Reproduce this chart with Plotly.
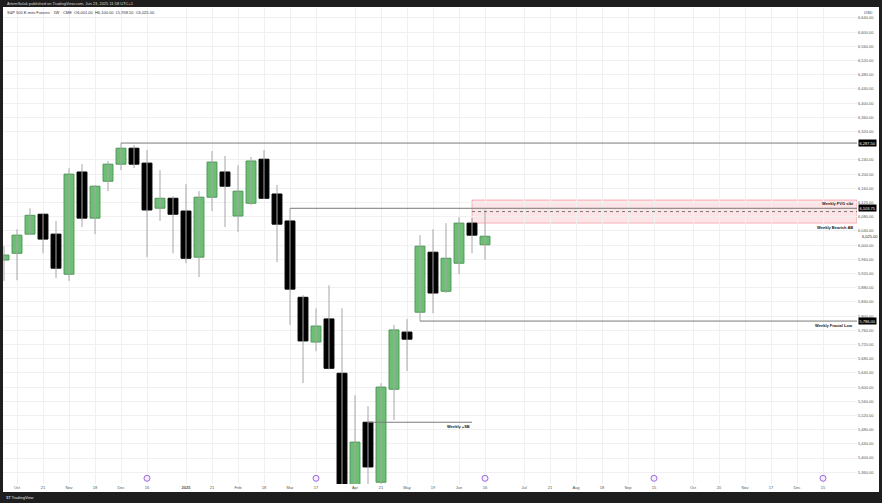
import plotly.graph_objects as go
import pandas as pd

# ---------------- data ----------------
week_dates = [
    "2024-09-30", "2024-10-07", "2024-10-14", "2024-10-21", "2024-10-28",
    "2024-11-04", "2024-11-11", "2024-11-18", "2024-11-25", "2024-12-02",
    "2024-12-09", "2024-12-16", "2024-12-23", "2024-12-30", "2025-01-06",
    "2025-01-13", "2025-01-20", "2025-01-27", "2025-02-03", "2025-02-10",
    "2025-02-17", "2025-02-24", "2025-03-03", "2025-03-10", "2025-03-17",
    "2025-03-24", "2025-03-31", "2025-04-07", "2025-04-14", "2025-04-21",
    "2025-04-28", "2025-05-05", "2025-05-12", "2025-05-19", "2025-05-26",
    "2025-06-02", "2025-06-09", "2025-06-16",
]
opens = [5958, 5977, 6031, 6087, 6031, 5918, 6206, 6076, 6180, 6228,
         6273, 6231, 6104, 6132, 6096, 5966, 6135, 6206, 6082, 6118,
         6242, 6144, 6068, 5853, 5727, 5792, 5639, 5080, 5501, 5332,
         5594, 5755, 5811, 5980, 5870, 5949, 6062, 6001]
highs = [5997, 6045, 6104, 6090, 6068, 6217, 6228, 6169, 6237, 6287.5,
         6282, 6268, 6211, 6138, 6172, 6152, 6265, 6251, 6225, 6248,
         6268, 6169, 6103.75, 5859, 5822, 5887, 5822, 5577, 5546, 5611,
         5775, 5792, 6028, 6045, 6062, 6079, 6076, 6100]
lows = [5899, 5901, 6028, 5977, 5907, 5899, 6051, 6031, 6152, 6211,
        6217, 5966, 6068, 5977, 5949, 5910, 6096, 6051, 6037, 6113,
        6130, 5952, 5775, 5611, 5701, 5650, 5040, 4830, 5300, 5250,
        5507, 5645, 5786, 5808, 5865, 5918, 5977, 5958.5]
closes = [5972, 6028, 6084, 6017, 5935, 6200, 6076, 6166, 6228, 6273,
          6228, 6099, 6132, 6087, 5963, 6135, 6234, 6166, 6152, 6237,
          6132, 6059, 5876, 5730, 5772, 5653, 5100, 5445, 5375, 5600,
          5761, 5735, 5997, 5865, 5963, 6062, 6028, 6025]

price_ticks = [5360 + 40 * i for i in range(33)]
x_tick_dates = ["2024-10-07", "2024-10-21", "2024-11-04", "2024-11-18", "2024-12-02",
                "2024-12-16", "2025-01-06", "2025-01-20", "2025-02-03", "2025-02-17",
                "2025-03-03", "2025-03-17", "2025-04-07", "2025-04-21", "2025-05-05",
                "2025-05-19", "2025-06-02", "2025-06-16", "2025-07-07", "2025-07-21",
                "2025-08-04", "2025-08-18", "2025-09-01", "2025-09-15", "2025-10-06",
                "2025-10-20", "2025-11-03", "2025-11-17", "2025-12-01", "2025-12-15"]
x_tick_text = ["Oct", "21", "Nov", "18", "Dec", "16", "<b>2025</b>", "21", "Feb", "18",
               "Mar", "17", "Apr", "21", "May", "19", "Jun", "16", "Jul", "21",
               "Aug", "18", "Sep", "15", "Oct", "20", "Nov", "17", "Dec", "15"]
rollover_dates = ["2024-12-16", "2025-03-17", "2025-06-16", "2025-09-15", "2025-12-15"]

# key levels
level_prior_high = 6287.50
level_prior_high_from = "2024-12-02"
level_bear = 6103.75
level_bear_from = "2025-03-03"
level_fractal_low = 5786.00
level_fractal_from = "2025-05-12"
level_sb = 5501.0
level_sb_from = "2025-04-14"
level_sb_to = "2025-06-09"
fvg_top = 6127.0
fvg_bottom = 6062.0
fvg_from = "2025-06-09"
last_price = 6025.00

# ---------------- geometry helpers ----------------
W, H = 882, 503
PL, PR, PT, PB = 3, 857, 8, 484          # plot area in pixels
Y_RANGE = [5327, 6668]
anchor = pd.Timestamp("2025-01-06")
px_per_week = 13.0
anchor_px = 186
x_left = anchor - pd.Timedelta(weeks=(anchor_px - PL) / px_per_week)
x_right = anchor + pd.Timedelta(weeks=(PR - anchor_px) / px_per_week)


def fx(px):
    return (px - PL) / (PR - PL)


def fy(py):
    return (PB - py) / (PB - PT)


# axis labels hidden where a price box sits on top of them (as on TradingView)
boxed_levels = [level_prior_high, level_bear, level_fractal_low]
shown_ticks = [v for v in price_ticks if all(abs(v - b) >= 10 for b in boxed_levels)]

# ---------------- traces ----------------
fig = go.Figure()

wx, wy = [], []
for d, lo, hi in zip(week_dates, lows, highs):
    wx += [d, d, None]
    wy += [lo, hi, None]
fig.add_trace(go.Scatter(x=wx, y=wy, mode="lines",
                         line=dict(color="#a6a6a6", width=1),
                         hoverinfo="skip"))

bases = [min(o, c) for o, c in zip(opens, closes)]
heights = [max(abs(c - o), 1) for o, c in zip(opens, closes)]
up = [c >= o for o, c in zip(opens, closes)]
fills = ["#6cbf75" if u else "#000000" for u in up]
edges = ["#4e9657" if u else "#000000" for u in up]
week_ms = 7 * 24 * 3600 * 1000
fig.add_trace(go.Bar(x=week_dates, y=heights, base=bases, width=week_ms * 0.76,
                     marker=dict(color=fills, line=dict(color=edges, width=1)),
                     hoverinfo="skip"))

fig.add_trace(go.Scatter(x=rollover_dates, y=[0.012] * len(rollover_dates),
                         yaxis="y2", mode="markers",
                         marker=dict(symbol="circle", size=6, color="#f4ecff",
                                     line=dict(color="#9b6be0", width=1)),
                         hoverinfo="skip", cliponaxis=False))

# ---------------- shapes ----------------
shapes = [
    dict(type="rect", xref="paper", yref="paper", x0=fx(3), x1=fx(879),
         y0=fy(492), y1=fy(7), fillcolor="white", line=dict(width=0), layer="below"),
    dict(type="rect", xref="x", yref="y", x0=fvg_from, x1=x_right,
         y0=fvg_bottom, y1=fvg_top, fillcolor="rgba(242,54,69,0.13)",
         line=dict(color="rgba(242,54,69,0.35)", width=1), layer="below"),
    dict(type="line", xref="x", yref="y", x0=fvg_from, x1=x_right,
         y0=(fvg_top + fvg_bottom) / 2, y1=(fvg_top + fvg_bottom) / 2,
         line=dict(color="#777777", width=1, dash="dot")),
    dict(type="line", xref="x", yref="y", x0=level_prior_high_from, x1=x_right,
         y0=level_prior_high, y1=level_prior_high, line=dict(color="#7a7a7a", width=1)),
    dict(type="line", xref="x", yref="y", x0=level_bear_from, x1=x_right,
         y0=level_bear, y1=level_bear, line=dict(color="#7a7a7a", width=1)),
    dict(type="line", xref="x", yref="y", x0=level_fractal_from, x1=x_right,
         y0=level_fractal_low, y1=level_fractal_low, line=dict(color="#7a7a7a", width=1)),
    dict(type="line", xref="x", yref="y", x0=level_sb_from, x1=level_sb_to,
         y0=level_sb, y1=level_sb, line=dict(color="#7a7a7a", width=1)),
]

# ---------------- annotations ----------------
FONT = "Liberation Sans"
ann = []
ann.append(dict(xref="paper", yref="paper", x=fx(5), y=fy(3.6), xanchor="left",
                yanchor="middle", showarrow=False,
                text="ArtemSalak published on TradingView.com, Jun 23, 2025 11:58 UTC+1",
                font=dict(size=4, color="#d8d8d8", family=FONT)))
ann.append(dict(xref="paper", yref="paper", x=fx(5), y=fy(12.6), xanchor="left",
                yanchor="middle", showarrow=False,
                text="S&P 500 E-mini Futures · 1W · CME  O6,001.00  H6,100.00  L5,958.50  C6,025.00",
                font=dict(size=4, color="#333333", family=FONT)))
ann.append(dict(xref="paper", yref="paper", x=fx(862), y=fy(12.5), xanchor="left",
                yanchor="middle", showarrow=False, text="USD",
                font=dict(size=4, color="#444444", family=FONT)))
ann.append(dict(xref="paper", yref="paper", x=fx(4), y=fy(497.5), xanchor="left",
                yanchor="middle", showarrow=False, text="<b>17</b> TradingView",
                font=dict(size=4, color="#e0e0e0", family=FONT)))

for price, label in [(level_prior_high, "6,287.50"), (level_bear, "6,103.75"),
                     (level_fractal_low, "5,786.00")]:
    ann.append(dict(xref="paper", yref="y", x=fx(858), y=price, xanchor="left",
                    yanchor="middle", showarrow=False, text=label,
                    bgcolor="#000000", borderpad=0.5,
                    font=dict(size=4, color="#ffffff", family=FONT)))
ann.append(dict(xref="paper", yref="y", x=fx(860), y=last_price, xanchor="left",
                yanchor="middle", showarrow=False, text=f"{last_price:,.2f}",
                font=dict(size=4, color="#222222", family=FONT)))

for txt, yv, ya in [("Weekly FVG sibi", level_bear, "bottom"),
                    ("Weekly Bearish AB", fvg_bottom, "top"),
                    ("Weekly Fractal Low", level_fractal_low, "top")]:
    ann.append(dict(xref="paper", yref="y", x=fx(855), y=yv, xanchor="right",
                    yanchor=ya, showarrow=False, text=f"<b>{txt}</b>",
                    font=dict(size=4, color="#222222", family=FONT)))
ann.append(dict(xref="x", yref="y", x=level_sb_to, y=level_sb, xanchor="right",
                yanchor="top", showarrow=False, text="<b>Weekly +SB</b>",
                font=dict(size=4, color="#222222", family=FONT)))

fig.update_layout(
    width=W, height=H,
    margin=dict(l=PL, r=W - PR, t=PT, b=H - PB, pad=0),
    paper_bgcolor="#1e1e1e", plot_bgcolor="white",
    showlegend=False, shapes=shapes, annotations=ann,
    font=dict(family=FONT, size=4, color="#555555"),
    xaxis=dict(type="date", range=[x_left, x_right], tickvals=x_tick_dates,
               ticktext=x_tick_text, showgrid=True, gridcolor="#f0f0f0", gridwidth=1,
               zeroline=False, showline=False, ticks="",
               tickfont=dict(size=4, color="#555555", family=FONT)),
    yaxis=dict(side="right", range=Y_RANGE, tickvals=shown_ticks,
               ticktext=[f"{v:,.2f}" for v in shown_ticks],
               showgrid=True, gridcolor="#f0f0f0", gridwidth=1, zeroline=False,
               showline=False, ticks="",
               tickfont=dict(size=4, color="#555555", family=FONT)),
    yaxis2=dict(overlaying="y", range=[0, 1], visible=False),
)

fig.write_html("out.html", config={"displayModeBar": False},
               post_script="document.body.style.margin='0';document.body.style.overflow='hidden';")
